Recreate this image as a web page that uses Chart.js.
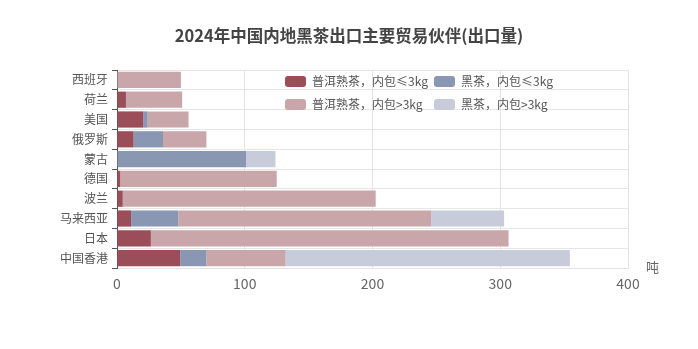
<!DOCTYPE html>
<html>
<head>
<meta charset="utf-8">
<script src="https://cdn.jsdelivr.net/npm/chart.js@4"></script>
<style>
  html, body { margin: 0; padding: 0; background: #fff; }
  #wrap { width: 698px; height: 349px; }
</style>
</head>
<body>
<div id="wrap"><canvas id="chart" width="698" height="349"></canvas></div>
<script>
// 出口伙伴（从上到下）
const partners = ['西班牙', '荷兰', '美国', '俄罗斯', '蒙古', '德国', '波兰', '马来西亚', '日本', '中国香港'];

// 各系列出口量（吨）
const puerSmall = [0, 7, 20.5, 13, 0, 2.5, 4.5, 11, 26.5, 49.5];
const darkSmall = [0, 0, 3.5, 23, 101, 0, 0, 37, 0, 20.5];
const puerLarge = [50, 44, 32, 34, 0, 122.5, 198, 198, 280, 62];
const darkLarge = [0, 0, 0, 0, 23, 0, 0, 57, 0, 222.5];

const seriesNames = ['普洱熟茶，内包≤3kg', '黑茶，内包≤3kg', '普洱熟茶，内包>3kg', '黑茶，内包>3kg'];
const xTicks = [0, 100, 200, 300, 400];
const unitLabel = '吨';
const titleText = '2024年中国内地黑茶出口主要贸易伙伴(出口量)';

const colors = ['#9b4e59', '#8a97b2', '#c9a6a9', '#c8cbda'];
const fontFamily = '"Noto Sans CJK SC", "Microsoft YaHei", sans-serif';

// 标题、图例和单位自己画（标题要在整个画布居中）
const legendInArea = {
    id: 'legendInArea',
    afterDraw(chart) {
        const ctx = chart.ctx;
        const pos = [[285, 81], [434, 81], [285, 104], [434, 104]];
        ctx.save();
        ctx.textBaseline = 'middle';

        ctx.font = 'bold 16.5px ' + fontFamily;
        ctx.fillStyle = '#444';
        ctx.textAlign = 'center';
        ctx.fillText(titleText, chart.width / 2, 36);

        ctx.font = '12px ' + fontFamily;
        chart.data.datasets.forEach((ds, i) => {
            const [x, y] = pos[i];
            ctx.fillStyle = ds.backgroundColor;
            ctx.beginPath();
            ctx.roundRect(x, y - 5, 21, 11, 3);
            ctx.fill();
            ctx.fillStyle = '#555';
            ctx.textAlign = 'left';
            ctx.fillText(ds.label, x + 27, y + 0.5);
        });
        ctx.font = '13px ' + fontFamily;
        ctx.fillStyle = '#666';
        ctx.fillText(unitLabel, chart.chartArea.right + 18, chart.chartArea.bottom - 1);
        ctx.restore();
    }
};

const bgPlugin = {
    id: 'bg',
    beforeDraw(chart) {
        const ctx = chart.ctx;
        ctx.save();
        ctx.fillStyle = '#fff';
        ctx.fillRect(0, 0, chart.width, chart.height);
        ctx.restore();
    }
};

const seriesData = [puerSmall, darkSmall, puerLarge, darkLarge];

new Chart(document.getElementById('chart'), {
    type: 'bar',
    data: {
        labels: partners,
        datasets: seriesData.map((d, i) => ({
            label: seriesNames[i],
            data: d,
            backgroundColor: colors[i],
            borderWidth: 0,
            categoryPercentage: 1,
            barPercentage: 0.82
        }))
    },
    options: {
        indexAxis: 'y',
        responsive: false,
        animation: false,
        layout: { padding: { left: 0, right: 70, top: 70, bottom: 51 } },
        plugins: {
            legend: { display: false },
            tooltip: { enabled: false },
            title: { display: false }
        },
        scales: {
            x: {
                stacked: true,
                min: 0,
                max: 400,
                afterBuildTicks: (scale) => { scale.ticks = xTicks.map(v => ({ value: v })); },
                afterFit: (scale) => { scale.height = 30; },
                grid: { color: '#e3e3e3', drawTicks: false },
                border: { color: '#e3e3e3' },
                ticks: {
                    color: '#666',
                    padding: 7,
                    font: { family: fontFamily, size: 14 }
                }
            },
            y: {
                stacked: true,
                afterFit: (scale) => { scale.width = 117; },
                grid: { color: '#e6e6e6', tickColor: '#555', tickLength: 5, offset: true },
                border: { color: '#555' },
                ticks: {
                    color: '#555',
                    padding: 4,
                    font: { family: fontFamily, size: 12 }
                }
            }
        }
    },
    plugins: [bgPlugin, legendInArea]
});
</script>
</body>
</html>
